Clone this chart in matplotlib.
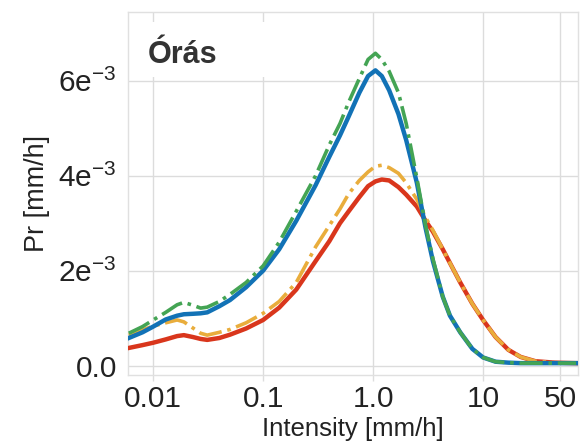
import numpy as np
import matplotlib
matplotlib.use("Agg")
from matplotlib import pyplot as plt
from matplotlib.ticker import FixedLocator, NullLocator
from matplotlib.patches import Rectangle

# intensity grid [mm/h]
intensity = [0.006, 0.008, 0.01, 0.013, 0.0165, 0.019, 0.023, 0.027, 0.031, 0.04,
             0.05, 0.07, 0.1, 0.14, 0.2, 0.3, 0.4, 0.5, 0.6, 0.75,
             0.9, 1.05, 1.2, 1.4, 1.7, 2.0, 2.5, 3.0, 3.5, 4.3,
             5.0, 6.2, 8, 10, 13, 17, 22, 30, 45, 70]

# valores en unidades de 1e-3
blue = [0.58, 0.70, 0.82, 0.97, 1.05, 1.08, 1.09, 1.10, 1.12, 1.25,
        1.38, 1.65, 2.0, 2.45, 3.05, 3.8, 4.4, 4.85, 5.25, 5.75,
        6.1, 6.22, 6.1, 5.8, 5.3, 4.75, 3.85, 2.9, 2.2, 1.45,
        1.05, 0.7, 0.35, 0.17, 0.08, 0.06, 0.05, 0.05, 0.05, 0.05]
green = [0.68, 0.82, 0.96, 1.12, 1.28, 1.33, 1.27, 1.21, 1.23, 1.35,
         1.5, 1.75, 2.1, 2.6, 3.25, 4.0, 4.65, 5.1, 5.55, 6.05,
         6.45, 6.58, 6.45, 6.2, 5.75, 5.1, 3.95, 2.95, 2.25, 1.45,
         1.05, 0.7, 0.35, 0.17, 0.08, 0.06, 0.05, 0.05, 0.05, 0.05]
red = [0.37, 0.43, 0.48, 0.55, 0.62, 0.64, 0.60, 0.56, 0.54, 0.58,
       0.65, 0.78, 0.96, 1.22, 1.6, 2.2, 2.62, 3.0, 3.25, 3.55,
       3.78, 3.88, 3.92, 3.9, 3.76, 3.6, 3.35, 3.05, 2.82, 2.45,
       2.16, 1.75, 1.3, 0.96, 0.6, 0.33, 0.18, 0.09, 0.06, 0.05]
orange = [0.64, 0.75, 0.83, 0.90, 0.96, 0.92, 0.79, 0.68, 0.64, 0.70,
          0.76, 0.90, 1.1, 1.35, 1.75, 2.5, 2.95, 3.3, 3.62, 3.9,
          4.08, 4.2, 4.22, 4.17, 4.05, 3.85, 3.5, 3.12, 2.85, 2.45,
          2.16, 1.75, 1.3, 0.96, 0.6, 0.33, 0.18, 0.09, 0.06, 0.05]

xticks = [0.01, 0.1, 1.0, 10, 50]
xticklabels = ["0.01", "0.1", "1.0", "10", "50"]
yticks = [0, 2e-3, 4e-3, 6e-3]
yticklabels = ["0.0", "2e$^{-3}$", "4e$^{-3}$", "6e$^{-3}$"]

plt.rcParams['font.family'] = ['Liberation Sans', 'DejaVu Sans']
plt.rcParams['mathtext.default'] = 'regular'

x = np.array(intensity)
s = 1e-3

fig = plt.figure(figsize=(5.81, 4.43), dpi=100)
ax = fig.add_axes([0.2203, 0.1535, 0.7745, 0.8194])

ax.plot(x, np.array(red) * s, color='#d9361c', lw=3.2, zorder=3)
ax.plot(x, np.array(orange) * s, color='#e9ad3c', lw=2.6, ls='-.', zorder=4)
ax.plot(x, np.array(blue) * s, color='#1272b6', lw=3.2, zorder=5)
ax.plot(x, np.array(green) * s, color='#44a454', lw=2.6, ls='-.', zorder=6)

ax.set_xscale('log')
ax.set_xlim(0.0059, 73)
ax.set_ylim(-0.0002, 0.00745)

ax.xaxis.set_major_locator(FixedLocator(xticks))
ax.xaxis.set_minor_locator(NullLocator())
ax.set_xticklabels(xticklabels)
ax.set_yticks(yticks)
ax.set_yticklabels(yticklabels)

ax.grid(True, color='#dcdcdc', lw=1.0)
ax.set_axisbelow(True)
for sp in ax.spines.values():
    sp.set_color('#e0e0e0')
    sp.set_linewidth(1.0)
ax.tick_params(axis='both', labelsize=21.5, colors='#222222', length=4, width=1,
               color='#dddddd')
ax.tick_params(axis='y', length=0, pad=8)
ax.tick_params(axis='x', pad=3)

ax.set_xlabel('Intensity [mm/h]', fontsize=18.5, color='#222222', labelpad=3)
ax.set_ylabel('Pr [mm/h]', fontsize=19.5, color='#222222', labelpad=6)

# caja blanca detras del titulo
ax.add_patch(Rectangle((0.011, 0.821), 0.353, 0.151, transform=ax.transAxes,
                       facecolor='white', edgecolor='none', zorder=2))
ax.text(0.045, 0.86, 'Órás', transform=ax.transAxes, fontsize=22,
        fontweight='bold', color='#333333', zorder=7)

fig.savefig('out.png', dpi=100)
